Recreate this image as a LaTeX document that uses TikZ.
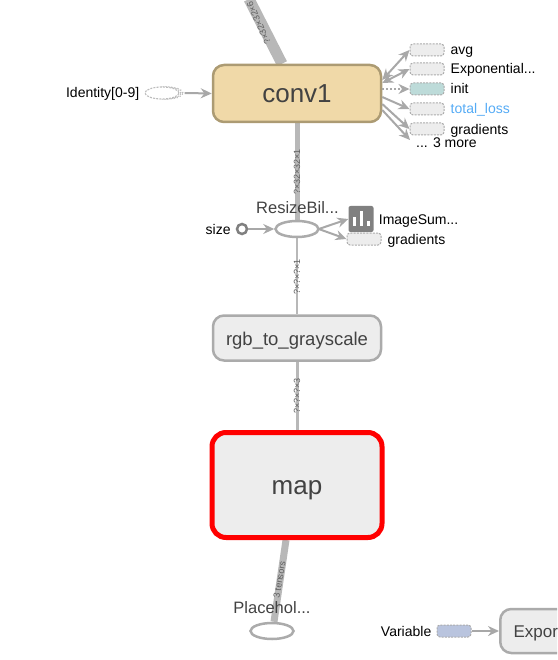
\documentclass[tikz,border=0pt]{standalone}
\usepackage{fontspec}
\setmainfont{Liberation Sans}
\usetikzlibrary{arrows,arrows.meta,positioning,shapes.geometric,calc,backgrounds}
\definecolor{edgegray}{HTML}{B8B8B8}
\definecolor{tipgray}{HTML}{A8A8A8}
\definecolor{boxgray}{HTML}{EDEDED}
\definecolor{linegray}{HTML}{ABABAB}
\definecolor{convfill}{HTML}{F0D9A8}
\definecolor{convline}{HTML}{AC9B73}
\definecolor{initfill}{HTML}{BDDBD9}
\definecolor{varfill}{HTML}{B9C4DE}
\definecolor{textgray}{HTML}{424242}
\definecolor{lossblue}{HTML}{55ABF5}
\tikzset{
  opbox/.style={draw=linegray, fill=boxgray, line width=2.5pt, rounded corners=11pt, text=textgray, inner sep=0pt, minimum width=168pt, text depth=0pt},
  auxbox/.style={draw=linegray, fill=boxgray, dashed, dash pattern=on 2pt off 1.2pt, line width=1pt, rounded corners=3pt, minimum width=34pt, minimum height=12pt, inner sep=0pt},
  opnode/.style={draw=linegray, ellipse, line width=2.5pt, fill=white, minimum width=43pt, minimum height=16pt, inner sep=0pt},
  auxlabel/.style={font=\fontsize{14}{14}\selectfont, text=black, inner sep=0pt, text height=10pt, text depth=0pt},
  oplabel/.style={font=\fontsize{16.5}{17}\selectfont, text=textgray, inner sep=0pt, anchor=base},
  shapelabel/.style={font=\fontsize{9}{9}\selectfont, text=textgray!85, inner sep=0pt},
  flow/.style={draw=edgegray, line width=#1},
  tiny arrow/.style={draw=tipgray, line width=2pt, -{Stealth[length=11pt,width=10pt]}},
  both arrow/.style={draw=tipgray, line width=2pt, {Stealth[length=11pt,width=10pt]}-{Stealth[length=11pt,width=10pt]}}
}
\begin{document}
\begin{tikzpicture}[x=1pt, y=-1pt]
    \useasboundingbox (0,0) rectangle (557,660);
    \clip (0,0) rectangle (557,660);

    % free ends of the edges
    \coordinate (topend) at (249,-1);
    \coordinate (moreend) at (410,140);

    % main column
    \node[opbox, draw=convline, fill=convfill, minimum height=57pt, text height=19pt, font=\fontsize{26}{26}\selectfont] (conv1) at (297,93.5) {conv1};
    \node[opnode] (resize) at (297,229) {};
    \node[oplabel] (resizelabel) at (297.5,213) {ResizeBil...};
    \node[opbox, minimum height=45pt, text height=14pt, font=\fontsize{18.5}{19}\selectfont] (rgb) at (297,338) {rgb\_to\_grayscale};
    \node[opbox, draw=red, line width=5pt, rounded corners=14pt, minimum width=170pt, minimum height=105pt, text height=19pt, font=\fontsize{26}{26}\selectfont] (map) at (297,485) {map};
    \node[opnode] (placeholder) at (272,631) {};
    \node[oplabel] (placeholderlabel) at (272,613) {Placehol...};

    % edges of the main column, under the nodes
    \begin{scope}[on background layer]
        \draw[flow=11pt] (topend) -- ($(conv1.north)+(-15,0)$);
        \draw[flow=5pt] (conv1.south) -- (resize.north);
        \draw[flow=2.5pt] (resize.south) -- (rgb.north);
        \draw[flow=3pt] (rgb.south) -- (map.north);
        \draw[flow=7pt] ($(map.south)+(-11,0)$) -- ($(placeholder.north)+(2,0)$);
    \end{scope}

    % shapes along the edges
    \node[shapelabel, rotate=114, anchor=west] (shapetop) at (268,44) {?×32×32×6};
    \node[shapelabel, rotate=90] (shapeconv) at (297,172) {?×32×32×1};
    \node[shapelabel, rotate=90] (shaperesize) at (297,277) {?×?×?×1};
    \node[shapelabel, rotate=90] (shapergb) at (297,396) {?×?×?×3};
    \node[shapelabel, rotate=80] (shapemap) at (279.5,580) {3 tensors};

    % auxiliary nodes right of conv1
    \foreach \name/\ypos/\fillcol in {avg/50/boxgray, expo/69/boxgray, init/89/initfill, loss/109/boxgray, grad/129/boxgray}
        \node[auxbox, fill=\fillcol] (\name) at (427,\ypos) {};
    \node[auxlabel, right=6pt of avg] (avglabel) {avg};
    \node[auxlabel, right=6pt of expo] (expolabel) {Exponential...};
    \node[auxlabel, right=6pt of init] (initlabel) {init};
    \node[auxlabel, right=6pt of loss, text=lossblue] (losslabel) {total\_loss};
    \node[auxlabel, right=6pt of grad, yshift=-1pt] (gradlabel) {gradients};
    \node[auxlabel, anchor=west] (morelabel) at (416,143) {... 3 more};

    \draw[both arrow] (conv1.east |- 0,80) -- (avg.west);
    \draw[both arrow] (conv1.east |- 0,83) -- (expo.west);
    \draw[tiny arrow, dotted, -{Stealth[length=11pt,width=10pt]}] (conv1.east |- init) -- (init.west);
    \draw[tiny arrow] (conv1.east |- 0,97) -- (loss.west);
    \draw[tiny arrow] (conv1.east |- 0,104) -- (grad.west);
    \draw[tiny arrow] (conv1.east |- 0,110) -- (moreend);

    % input of conv1, a stack of ellipses
    \foreach \shift in {4,2}
        \node[draw=linegray!80, dotted, ellipse, line width=1.2pt, minimum width=32pt, minimum height=12pt, inner sep=0pt] at (163+\shift,93) {};
    \node[draw=linegray!80, fill=white, dash pattern=on 2pt off 1.2pt, ellipse, line width=1.1pt, minimum width=34pt, minimum height=12pt, inner sep=0pt] (identity) at (162,93) {};
    \node[auxlabel, left=5pt of identity] (identitylabel) {Identity[0-9]};
    \draw[tiny arrow] ($(identity.east)+(5,0)$) -- (conv1.west);

    % around the resize op
    \node[circle, draw=gray, fill=white, line width=2.5pt, minimum size=10pt, inner sep=0pt] (size) at (242,229) {};
    \node[auxlabel, left=5pt of size] (sizelabel) {size};
    \draw[tiny arrow] (size.east) -- (resize.west);
    \node[fill=gray, rounded corners=2pt, minimum width=25pt, minimum height=26pt, inner sep=0pt] (imagesum) at (361,219) {};
    \foreach \barx/\barh in {-7/9, 0/15, 7/5}
        \fill[white] ($(imagesum)+(\barx-1.5,7)$) rectangle ++(3,-\barh);
    \node[auxlabel, right=5pt of imagesum] (imagelabel) {ImageSum...};
    \node[auxbox] (resizegrad) at (364,239) {};
    \node[auxlabel, right=6pt of resizegrad] (resizegradlabel) {gradients};
    \draw[tiny arrow] ($(resize.east)+(-1,0)$) -- (imagesum.west |- 0,219);
    \draw[tiny arrow] ($(resize.east)+(-1,0)$) -- (resizegrad.west);

    % lower right corner
    \node[opbox, minimum width=71pt, minimum height=44pt, anchor=west, text height=12pt, font=\fontsize{17}{17}\selectfont] (export) at (499,631) {Expor};
    \node[auxbox, fill=varfill] (variable) at (454,631) {};
    \node[auxlabel, left=5pt of variable] (variablelabel) {Variable};
    \draw[tiny arrow] (variable.east) -- (export.west);
\end{tikzpicture}
\end{document}
